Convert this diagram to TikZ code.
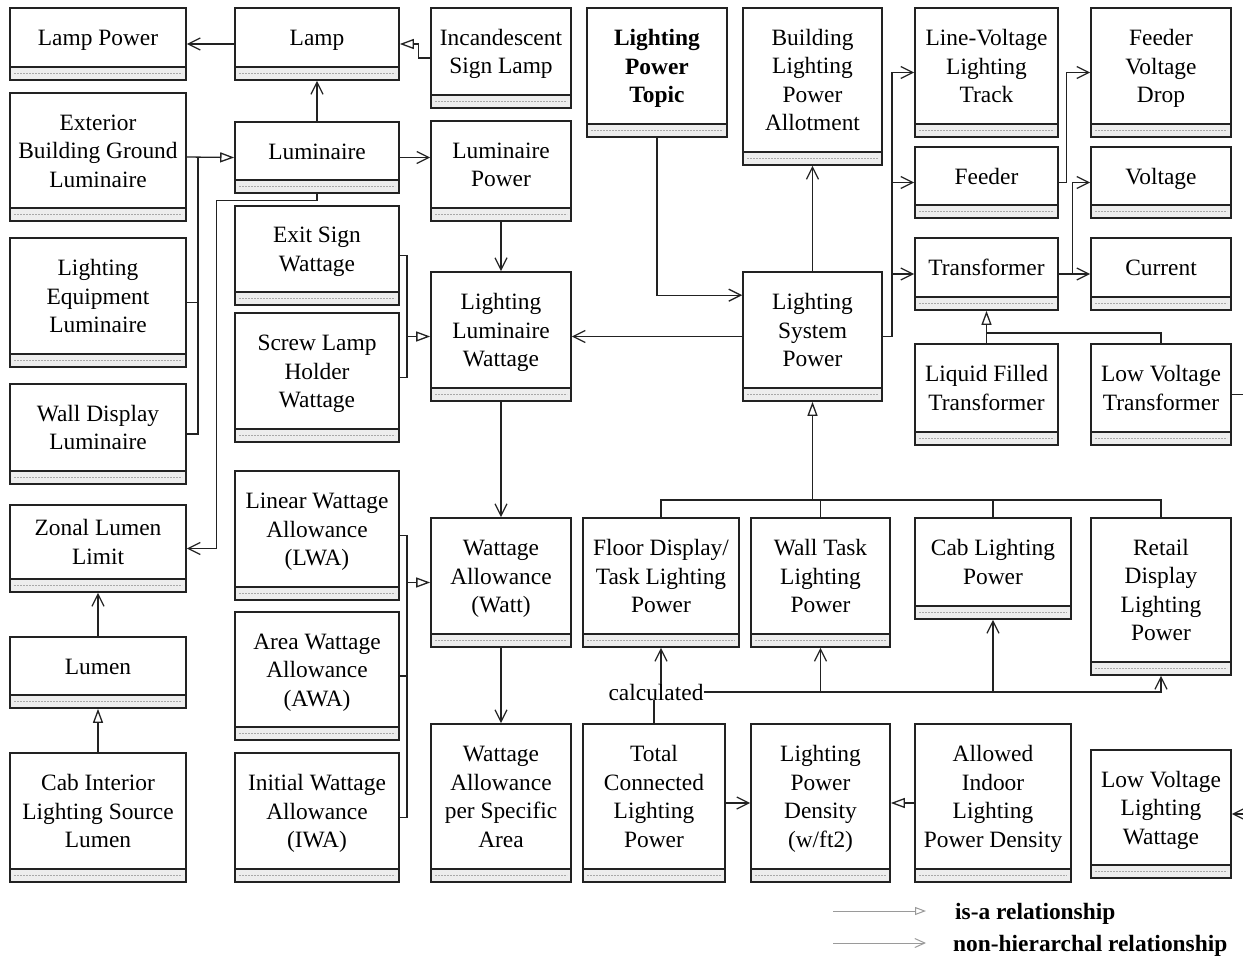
\documentclass[tikz,border=0pt]{standalone}
\usepackage{fontspec}
\setmainfont{Liberation Serif}
\usetikzlibrary{arrows.meta}
\definecolor{framecol}{HTML}{222222}
\definecolor{compfill}{HTML}{EDEDED}
\definecolor{dashcol}{HTML}{A8A8A8}
\definecolor{legendcol}{HTML}{9A9A9A}

\tikzset{
  boxframe/.style={draw=framecol, line width=1.6pt, inner sep=0pt, rectangle},
  boxtext/.style={align=center, inner sep=0pt, font=\fontsize{23.4}{28.5}\selectfont},
  legendtext/.style={inner sep=0pt, anchor=base west, font=\fontsize{23.4}{28.5}\selectfont\bfseries},
  plain/.style={draw=framecol, line width=1.3pt},
  rel/.style={plain, -{Straight Barb[length=12pt,width=12pt,line width=1.3pt]}},
  isa/.style={plain, -{Triangle[open,length=14pt,width=10pt,line width=1.3pt]}},
  legendline/.style={draw=legendcol, line width=1pt},
}

% \umlbox{name}{left}{top}{right}{bottom}{label}: class box with an empty compartment
\newcommand\umlbox[6]{%
  \fill[white] (#2,#3) rectangle (#4,#5);
  \fill[compfill] (#2,{#5-13}) rectangle (#4,#5);
  \draw[dashcol, line width=0.6pt, dash pattern=on 2pt off 1pt] ({#2+4},{#5-6.5}) -- ({#4-4},{#5-6.5});
  \draw[framecol, line width=1.5pt] (#2,{#5-13}) -- (#4,{#5-13});
  \node[boxframe, minimum width={(#4-#2)*1pt}, minimum height={(#5-#3)*1pt}] (#1) at ({(#2+#4)/2},{(#3+#5)/2}) {};
  \node[boxtext] (#1t) at ({(#2+#4)/2},{(#3+#5-13)/2+2.5}) {\strut#6\strut};
}

\begin{document}
\begin{tikzpicture}[x=1pt,y=-1pt]
\useasboundingbox (0,0) rectangle (1243,956);

% ---- classes ----
\umlbox{lamppow}{10}{8}{186}{80}{Lamp Power}
\umlbox{lamp}{235}{8}{399}{80}{Lamp}
\umlbox{incand}{431}{8}{571}{108}{Incandescent\\Sign Lamp}
\umlbox{topic}{587}{8}{727}{137}{\textbf{Lighting}\\\textbf{Power}\\\textbf{Topic}}
\umlbox{allot}{743}{8}{882}{165}{Building\\Lighting\\Power\\Allotment}
\umlbox{track}{915}{8}{1058}{137}{Line-Voltage\\Lighting\\Track}
\umlbox{fvd}{1091}{8}{1231}{137}{Feeder\\Voltage\\Drop}
\umlbox{ext}{10}{93}{186}{221}{Exterior\\Building Ground\\Luminaire}
\umlbox{lum}{235}{122}{399}{193}{Luminaire}
\umlbox{lumpow}{431}{121}{571}{221}{Luminaire\\Power}
\umlbox{feeder}{915}{147}{1058}{218}{Feeder}
\umlbox{volt}{1091}{147}{1231}{218}{Voltage}
\umlbox{exit}{235}{206}{399}{305}{Exit Sign\\Wattage}
\umlbox{equip}{10}{238}{186}{367}{Lighting\\Equipment\\Luminaire}
\umlbox{trans}{915}{238}{1058}{310}{Transformer}
\umlbox{curr}{1091}{238}{1231}{310}{Current}
\umlbox{llw}{431}{272}{571}{401}{Lighting\\Luminaire\\Wattage}
\umlbox{lsp}{743}{272}{882}{401}{Lighting\\System\\Power}
\umlbox{screw}{235}{313}{399}{442}{Screw Lamp\\Holder\\Wattage}
\umlbox{liquid}{915}{344}{1058}{445}{Liquid Filled\\Transformer}
\umlbox{lvt}{1091}{344}{1231}{445}{Low Voltage\\Transformer}
\umlbox{wall}{10}{384}{186}{484}{Wall Display\\Luminaire}
\umlbox{lwa}{235}{471}{399}{600}{Linear Wattage\\Allowance\\(LWA)}
\umlbox{zonal}{10}{505}{186}{592}{Zonal Lumen\\Limit}
\umlbox{wa}{431}{518}{571}{647}{Wattage\\Allowance\\(Watt)}
\umlbox{floor}{583}{518}{739}{647}{Floor Display/\\Task Lighting\\Power}
\umlbox{walltask}{751}{518}{890}{647}{Wall Task\\Lighting\\Power}
\umlbox{cab}{915}{518}{1071}{619}{Cab Lighting\\Power}
\umlbox{retail}{1091}{518}{1231}{675}{Retail\\Display\\Lighting\\Power}
\umlbox{awa}{235}{612}{399}{740}{Area Wattage\\Allowance\\(AWA)}
\umlbox{lumen}{10}{637}{186}{708}{Lumen}
\umlbox{wapsa}{431}{724}{571}{882}{Wattage\\Allowance\\per Specific\\Area}
\umlbox{tclp}{583}{724}{725}{882}{Total\\Connected\\Lighting\\Power}
\umlbox{lpd}{751}{724}{890}{882}{Lighting\\Power\\Density\\(w/ft2)}
\umlbox{ailpd}{915}{724}{1071}{882}{Allowed\\Indoor\\Lighting\\Power Density}
\umlbox{lvlw}{1091}{750}{1231}{878}{Low Voltage\\Lighting\\Wattage}
\umlbox{cabint}{10}{753}{186}{882}{Cab Interior\\Lighting Source\\Lumen}
\umlbox{iwa}{235}{753}{399}{882}{Initial Wattage\\Allowance\\(IWA)}

% ---- junction points of shared lines ----
\coordinate (busL) at (198,157.5);
\coordinate (busE) at (407,336.5);
\coordinate (busW) at (407,582.5);
\coordinate (busR) at (892,336.5);
\coordinate (busT) at (987,333);
\coordinate (busB) at (812.5,500);
\coordinate (edgeA) at (1243,394.5);
\coordinate (edgeB) at (1243,814);

% ---- left part ----
\draw[rel] (lamp.west) -- (lamppow.east);
\draw[isa] (incand.west) -- ++(-12,0) |- (lamp.east);
\draw[rel] (lum.north) -- (lamp.south);
\draw[isa] (ext.east) -- (lum.west);
\draw[plain] (equip.east) -| (busL);
\draw[plain] (wall.east) -| (busL);
\draw[rel] (lum.south) -- ++(0,7) -| ([xshift=30pt]zonal.east) -- (zonal.east);
\draw[isa] (cabint.north) -- (lumen.south);
\draw[rel] (lumen.north) -- (zonal.south);
\draw[rel] (lum.east) -- (lum.east -| lumpow.west);
\draw[rel] (lumpow.south) -- (llw.north);
\draw[plain] (exit.east) -| (busE);
\draw[plain] (screw.east) -| (busE);
\draw[isa] (busE) -- (llw.west);
\draw[rel] (lsp.west) -- (llw.east);
\draw[rel] (llw.south) -- (wa.north);
\draw[plain] (lwa.east) -| (busW);
\draw[plain] (awa.east) -| (busW);
\draw[plain] (iwa.east) -| (busW);
\draw[isa] (busW) -- (wa.west);
\draw[rel] (wa.south) -- (wapsa.north);

% ---- right part ----
\draw[rel] (topic.south) |- ([yshift=-24pt]lsp.north west);
\draw[rel] (lsp.north) -- (allot.south);
\draw[plain] (lsp.east) -- (busR);
\draw[rel] (busR) |- (track.west);
\draw[rel] (busR |- feeder.west) -- (feeder.west);
\draw[rel] (busR |- trans.west) -- (trans.west);
\draw[rel] (feeder.east) -- ++(8,0) |- (fvd.west);
\draw[rel] (trans.east) -- (curr.west);
\draw[rel] ([xshift=14pt]trans.east) |- (volt.west);
\draw[isa] (liquid.north) -- (trans.south);
\draw[plain] (lvt.north) |- (busT);
\draw[plain] (lvt.east) -- (edgeA);
\draw[rel] (edgeB) -- (lvlw.east);

\draw[isa] (busB) -- (lsp.south);
\draw[plain] (floor.north) |- (busB);
\draw[plain] (walltask.north) |- (busB);
\draw[plain] (cab.north) |- (busB);
\draw[plain] (retail.north) |- (busB);

\node[boxtext] (calc) at (656,692) {calculated};
\draw[plain] (tclp.north) -- (tclp.north |- calc.south);
\draw[rel] (floor.south |- calc.north) -- (floor.south);
\draw[rel] (calc.east) -| (retail.south);
\draw[rel] (walltask.south |- calc.east) -- (walltask.south);
\draw[rel] (cab.south |- calc.east) -- (cab.south);
\draw[rel] (tclp.east) -- (lpd.west);
\draw[isa] (ailpd.west) -- (lpd.east);

% ---- legend ----
\coordinate (lgA1) at (833,911);
\coordinate (lgA2) at (926,911);
\coordinate (lgB1) at (833,943);
\coordinate (lgB2) at (926,943);
\draw[legendline, -{Triangle[open,length=11pt,width=8pt,line width=1pt]}] (lgA1) -- (lgA2);
\draw[legendline, -{Straight Barb[length=10pt,width=9pt,line width=1pt]}] (lgB1) -- (lgB2);
\node[legendtext] (lgAt) at (955,919) {is-a relationship};
\node[legendtext] (lgBt) at (953,951) {non-hierarchal relationship};
\end{tikzpicture}
\end{document}
